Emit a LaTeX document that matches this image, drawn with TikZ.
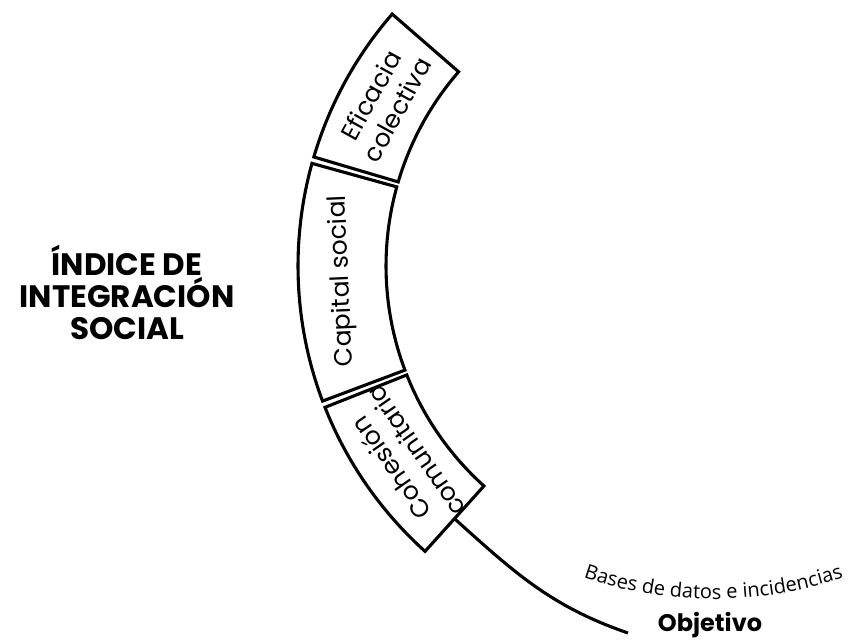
\documentclass[tikz,border=0pt]{standalone}
\usepackage{fontspec}
\setmainfont{Poppins}
\newfontfamily\basesfont{Open Sans}
\usetikzlibrary{decorations.text}

\tikzstyle{sector}=[draw=black,line width=3.1pt]
\tikzstyle{seglabel}=[font=\fontsize{25}{30}\selectfont,align=center]
\tikzstyle{headline}=[font=\bfseries\fontsize{31}{32}\selectfont,align=center]
\tikzstyle{mainedge}=[line width=3.1pt]

\begin{document}
\begin{tikzpicture}[x=1pt,y=1pt]
\useasboundingbox (0,0) rectangle (848,643);
\coordinate (c) at (682,377);
\coordinate (b) at (713.5,448);

% title
\node[headline] (title) at (127,351) {ÍNDICE DE\\INTEGRACIÓN\\SOCIAL};

% 1st sector
\draw[sector] ([shift={(139:384)}]c) arc[start angle=139,end angle=163.5,radius=384]
    -- ([shift={(163.5:296)}]c) arc[start angle=163.5,end angle=139,radius=296] -- cycle;
\node[seglabel,rotate=61.25] (eficacia) at ([shift={(151.25:340)}]c) {Eficacia\\colectiva};

% 2nd sector
\draw[sector] ([shift={(164.5:384)}]c) arc[start angle=164.5,end angle=200.6,radius=384]
    -- ([shift={(200.6:296)}]c) arc[start angle=200.6,end angle=164.5,radius=296] -- cycle;
\node[seglabel,rotate=92.5] (capital) at ([shift={(182.5:340)}]c) {Capital social};

% 3rd sector
\draw[sector] ([shift={(201.6:384)}]c) arc[start angle=201.6,end angle=228,radius=384]
    -- ([shift={(228:296)}]c) arc[start angle=228,end angle=201.6,radius=296] -- cycle;
\node[seglabel,rotate=124.8] (cohesion) at ([shift={(214.8:340)}]c) {Cohesión\\comunitaria};

% objetivo
\coordinate (cohend) at ([shift={(228:340)}]c);
\node[headline,font=\bfseries\fontsize{24}{26}\selectfont] (objetivo) at (710,18) {Objetivo};
\coordinate (objend) at (628,10);
\draw[mainedge] (cohend) to[out=-42,in=161] (objend);
\path[decorate,decoration={text along path,text align=center,
    text={|\basesfont\fontsize{20}{22}\selectfont|Bases de datos e incidencias}}]
    ([shift={(251.5:404)}]b) arc[start angle=251.5,end angle=288.5,radius=404];

\end{tikzpicture}
\end{document}
